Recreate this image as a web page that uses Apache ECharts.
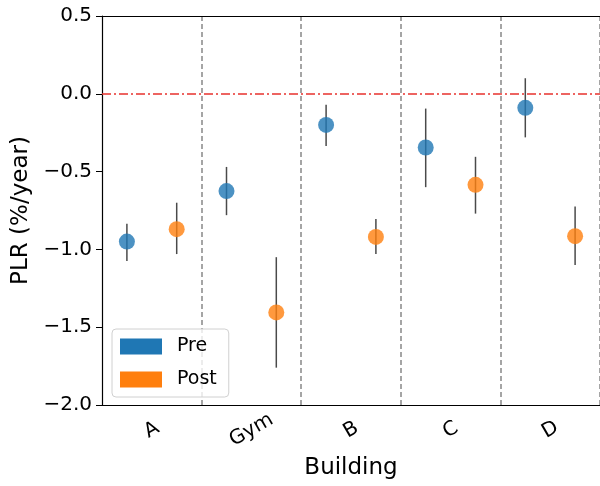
<!DOCTYPE html>
<html>
<head>
<meta charset="utf-8">
<script src="https://cdn.jsdelivr.net/npm/echarts@6/dist/echarts.min.js"></script>
<style>
  html, body { margin: 0; padding: 0; background: #fff; }
  #plr { width: 600px; height: 486px; }
</style>
</head>
<body>
<div id="plr"></div>
<script>
// buildings on the x axis
var buildings = ['A', 'Gym', 'B', 'C', 'D'];

// pre-retrofit PLR and its error range
var preMean = [-0.95, -0.625, -0.20, -0.345, -0.09];
var preLow = [-1.075, -0.78, -0.335, -0.60, -0.28];
var preHigh = [-0.835, -0.47, -0.07, -0.095, 0.10];

// post-retrofit PLR and its error range
var postMean = [-0.87, -1.405, -0.92, -0.585, -0.915];
var postLow = [-1.03, -1.76, -1.03, -0.77, -1.10];
var postHigh = [-0.70, -1.05, -0.805, -0.405, -0.725];

var chart = echarts.init(document.getElementById('plr'));

function points(mean, shift) {
    return mean.map(function (v, i) { return [i + shift, v]; });
}
function bars(low, high, shift) {
    return low.map(function (v, i) { return [i + shift, v, high[i]]; });
}
function drawBar(params, api) {
    var a = api.coord([api.value(0), api.value(1)]);
    var b = api.coord([api.value(0), api.value(2)]);
    return {
        type: 'line',
        shape: {x1: a[0], y1: a[1], x2: b[0], y2: b[1]},
        style: {stroke: '#4a4a4a', lineWidth: 1.5}
    };
}

var font = 'DejaVu Sans';
var option = {
    animation: false,
    textStyle: {fontFamily: font},
    grid: {left: 102, right: -4, top: 16, bottom: 81},
    legend: {
        left: 112, top: 329,
        orient: 'vertical',
        padding: [8, 12, 8, 8],
        itemWidth: 42, itemHeight: 16, itemGap: 14,
        borderColor: '#d0d0d0', borderWidth: 1, borderRadius: 4,
        backgroundColor: 'rgba(255,255,255,0.8)',
        textStyle: {fontFamily: font, fontSize: 19, color: '#000', padding: [0, 0, 0, 10]},
        data: [
            {name: 'Pre', icon: 'rect', itemStyle: {color: '#1f77b4', opacity: 1}},
            {name: 'Post', icon: 'rect', itemStyle: {color: '#ff7f0e', opacity: 1}}
        ]
    },
    xAxis: [
        {
            type: 'category',
            data: buildings,
            boundaryGap: true,
            name: 'Building',
            nameLocation: 'middle',
            nameGap: 52,
            nameTextStyle: {fontFamily: font, fontSize: 23, color: '#000'},
            axisLine: {onZero: false, lineStyle: {color: '#000', width: 1.2}},
            axisTick: {show: false},
            axisLabel: {
                rotate: 30, align: 'center', verticalAlign: 'middle', margin: 25,
                fontFamily: font, fontSize: 20, color: '#000'
            },
            splitLine: {
                show: true, showMinLine: false,
                lineStyle: {color: '#888', width: 1.5, type: [5, 3]}
            }
        },
        {
            type: 'value',
            min: 0, max: 5,
            position: 'top',
            axisLine: {show: true, onZero: false, lineStyle: {color: '#000', width: 1.2}},
            axisTick: {show: false},
            axisLabel: {show: false},
            splitLine: {show: false}
        }
    ],
    yAxis: {
        type: 'value',
        min: -2, max: 0.5, interval: 0.5,
        name: 'PLR (%/year)',
        nameLocation: 'middle',
        nameGap: 66,
        nameTextStyle: {fontFamily: font, fontSize: 23, color: '#000'},
        axisLine: {show: true, onZero: false, lineStyle: {color: '#000', width: 1.2}},
        axisTick: {show: true, length: 6, lineStyle: {color: '#000'}},
        axisLabel: {
            margin: 10, fontFamily: font, fontSize: 20, color: '#000',
            formatter: function (v) { return v.toFixed(1).replace('-', '\u2212'); }
        },
        splitLine: {show: false}
    },
    series: [
        {
            name: 'preErr', type: 'custom', xAxisIndex: 1, z: 2,
            renderItem: drawBar, data: bars(preLow, preHigh, 0.25),
            markLine: {
                silent: true, symbol: 'none', label: {show: false},
                lineStyle: {color: '#e8322e', width: 1.6, type: [9, 3, 2, 3]},
                data: [{yAxis: 0}]
            }
        },
        {
            name: 'postErr', type: 'custom', xAxisIndex: 1, z: 2,
            renderItem: drawBar, data: bars(postLow, postHigh, 0.75)
        },
        {
            name: 'Pre', type: 'scatter', xAxisIndex: 1, z: 3,
            symbolSize: 16,
            itemStyle: {color: '#1f77b4', opacity: 0.8},
            data: points(preMean, 0.25)
        },
        {
            name: 'Post', type: 'scatter', xAxisIndex: 1, z: 3,
            symbolSize: 16,
            itemStyle: {color: '#ff7f0e', opacity: 0.8},
            data: points(postMean, 0.75)
        }
    ]
};
chart.setOption(option);
</script>
</body>
</html>
